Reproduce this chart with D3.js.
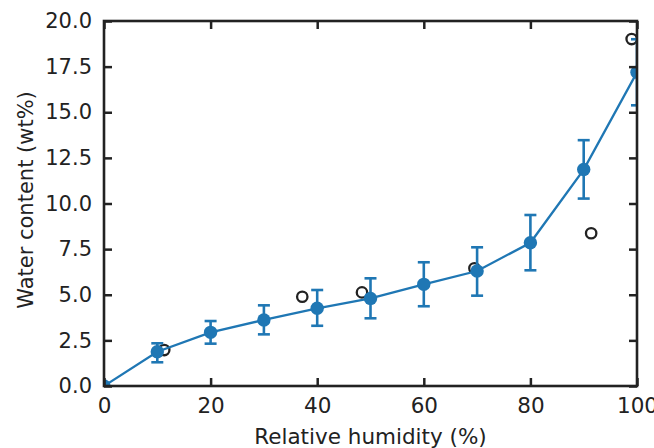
<!DOCTYPE html>
<html><head><meta charset="utf-8">
<script src="https://cdn.jsdelivr.net/npm/d3@7"></script>
<style>body{margin:0;background:#fff}svg{display:block}text{font-family:"DejaVu Sans",sans-serif}</style>
</head><body>
<svg id="c" width="654" height="448"></svg>
<script>
const humidity = [0, 10, 20, 30, 40, 50, 60, 70, 80, 90, 100];
const water = [0, 1.88, 2.94, 3.62, 4.26, 4.80, 5.57, 6.30, 7.85, 11.86, 17.19];
const errHigh = [0, 2.34, 3.56, 4.42, 5.26, 5.90, 6.78, 7.60, 9.37, 13.47, 19.0];
const errLow = [0, 1.30, 2.32, 2.83, 3.30, 3.71, 4.37, 4.95, 6.34, 10.27, 15.38];
const refX = [11.3, 37.2, 48.4, 69.5, 91.4, 99.0];
const refY = [1.97, 4.89, 5.13, 6.45, 8.37, 19.01];
const xTicks = [0, 20, 40, 60, 80, 100];
const yTicks = [0, 2.5, 5, 7.5, 10, 12.5, 15, 17.5, 20];

const svg = d3.select("#c");
const L = 104, R = 637, T = 21, B = 386;
const x = d3.scaleLinear().domain([0, 100]).range([L, R]);
const y = d3.scaleLinear().domain([0, 20]).range([B, T]);
const blue = "#1f77b4", ink = "#222";

svg.append("defs").append("clipPath").attr("id", "clip")
  .append("rect").attr("x", L).attr("y", T).attr("width", R - L).attr("height", B - T);
const plot = svg.append("g").attr("clip-path", "url(#clip)");

// open circles (reference data)
plot.append("g").selectAll("circle").data(refX).join("circle")
  .attr("cx", (d) => x(d)).attr("cy", (d, i) => y(refY[i])).attr("r", 5.2)
  .attr("fill", "none").attr("stroke", ink).attr("stroke-width", 2.3);

// line
plot.append("path").datum(humidity)
  .attr("d", d3.line().x((d) => x(d)).y((d, i) => y(water[i])))
  .attr("fill", "none").attr("stroke", blue).attr("stroke-width", 2.3);

// error bars
const eb = plot.append("g").attr("stroke", blue).attr("stroke-width", 2.6);
humidity.forEach((h, i) => {
  if (i === 0) return;
  eb.append("line").attr("x1", x(h)).attr("x2", x(h)).attr("y1", y(errLow[i])).attr("y2", y(errHigh[i]));
  [errLow[i], errHigh[i]].forEach((v) => {
    eb.append("line").attr("x1", x(h) - 6).attr("x2", x(h) + 6).attr("y1", y(v)).attr("y2", y(v));
  });
});

// points
plot.append("g").selectAll("circle").data(humidity).join("circle")
  .attr("cx", (d) => x(d)).attr("cy", (d, i) => y(water[i])).attr("r", 6.7).attr("fill", blue);

// axes
const fx = 21.5, fy = 21;
const axB = d3.axisBottom(x).tickValues(xTicks).tickSizeInner(-8).tickSizeOuter(0).tickPadding(12).tickFormat(d3.format("d"));
const axT = d3.axisTop(x).tickValues(xTicks).tickSizeInner(-8).tickSizeOuter(0).tickFormat("");
const axL = d3.axisLeft(y).tickValues(yTicks).tickSizeInner(-8).tickSizeOuter(0).tickPadding(12).tickFormat(d3.format(".1f"));
const axR = d3.axisRight(y).tickValues(yTicks).tickSizeInner(-8).tickSizeOuter(0).tickFormat("");
function style(fs) {
  return (g) => {
    g.selectAll("path").remove();
    g.selectAll("line").attr("stroke", ink).attr("stroke-width", 2.5);
    g.selectAll("text").attr("fill", ink).style("font-size", fs + "px");
  };
}
svg.append("g").attr("transform", `translate(0,${B})`).call(axB).call(style(fx));
svg.append("g").attr("transform", `translate(0,${T})`).call(axT).call(style(fx));
svg.append("g").attr("transform", `translate(${L},0)`).call(axL).call(style(fy));
svg.append("g").attr("transform", `translate(${R},0)`).call(axR).call(style(fy));

// frame
svg.append("rect").attr("x", L).attr("y", T).attr("width", R - L).attr("height", B - T)
  .attr("fill", "none").attr("stroke", ink).attr("stroke-width", 2.6);

// labels
svg.append("text").attr("x", (L + R) / 2).attr("y", 444).attr("text-anchor", "middle")
  .attr("fill", ink).style("font-size", fx + "px").text("Relative humidity (%)");
svg.append("text").attr("transform", `translate(33,200) rotate(-90)`).attr("text-anchor", "middle")
  .attr("fill", ink).style("font-size", fy + "px").text("Water content (wt%)");
</script>
</body></html>
